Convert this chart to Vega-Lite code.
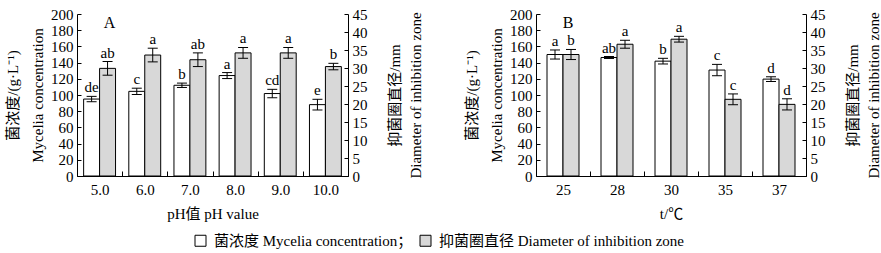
{
  "$schema": "https://vega.github.io/schema/vega-lite/v6.json",
  "background": "white",
  "padding": {"left": 5, "top": 7, "right": 0, "bottom": 0},
  "spacing": 41,
  "config": {
    "view": {"stroke": null},
    "font": "Liberation Serif, Noto Sans CJK SC",
    "axis": {
      "labelFont": "Liberation Serif, Noto Sans CJK SC",
      "titleFont": "Liberation Serif, Noto Sans CJK SC",
      "labelFontSize": 15,
      "titleFontSize": 15,
      "titleFontWeight": "normal",
      "labelColor": "black",
      "titleColor": "black",
      "domainColor": "black",
      "tickColor": "black",
      "ticks": true,
      "grid": false
    },
    "legend": {
      "labelFont": "Liberation Serif, Noto Sans CJK SC",
      "labelFontSize": 15,
      "labelColor": "black"
    },
    "tick": {"color": "black", "thickness": 1, "size": 10, "opacity": 1},
    "rule": {"color": "black", "strokeWidth": 1},
    "text": {"fontSize": 15, "color": "black", "font": "Liberation Serif, Noto Sans CJK SC"}
  },
  "resolve": {"scale": {"xOffset": "independent"}},
  "hconcat": [
    {
      "width": 271,
      "height": 162,
      "data": {"values": [
        {"cat": "5.0", "s": "M", "v": 95, "lo": 91.7, "hi": 98.3, "L": "de"},
        {"cat": "5.0", "s": "D", "v": 29.9, "lo": 28.0, "hi": 31.8, "L": "ab"},
        {"cat": "6.0", "s": "M", "v": 104.5, "lo": 100.6, "hi": 108.4, "L": "c"},
        {"cat": "6.0", "s": "D", "v": 33.6, "lo": 31.7, "hi": 35.5, "L": "a"},
        {"cat": "7.0", "s": "M", "v": 112, "lo": 109.3, "hi": 114.7, "L": "b"},
        {"cat": "7.0", "s": "D", "v": 32.3, "lo": 30.4, "hi": 34.2, "L": "ab"},
        {"cat": "8.0", "s": "M", "v": 124, "lo": 120.3, "hi": 127.7, "L": "a"},
        {"cat": "8.0", "s": "D", "v": 34.2, "lo": 32.7, "hi": 35.7, "L": "a"},
        {"cat": "9.0", "s": "M", "v": 101.8, "lo": 96.6, "hi": 107, "L": "cd"},
        {"cat": "9.0", "s": "D", "v": 34.2, "lo": 32.7, "hi": 35.7, "L": "a"},
        {"cat": "10.0", "s": "M", "v": 88.1, "lo": 81.5, "hi": 94.7, "L": "e"},
        {"cat": "10.0", "s": "D", "v": 30.4, "lo": 29.5, "hi": 31.3, "L": "b"}
      ]},
      "encoding": {
        "x": {
          "field": "cat", "type": "ordinal",
          "scale": {"domain": ["5.0", "6.0", "7.0", "8.0", "9.0", "10.0"], "paddingInner": 0, "paddingOuter": 0},
          "axis": {"title": "pH值 pH value", "labelAngle": 0, "ticks": true, "tickBand": "extent", "tickSize": -5, "labelPadding": 11, "titlePadding": 9}
        },
        "xOffset": {"field": "s", "type": "nominal", "scale": {"domain": ["M", "D"], "paddingInner": 0, "paddingOuter": 0.416}}
      },
      "layer": [
        {
          "transform": [{"filter": "datum.s == 'M'"}],
          "mark": {"type": "bar", "stroke": "black", "strokeWidth": 1},
          "encoding": {
            "y": {"field": "v", "type": "quantitative", "scale": {"domain": [0, 200], "nice": false},
              "axis": {"orient": "left", "values": [0, 20, 40, 60, 80, 100, 120, 140, 160, 180, 200], "tickSize": -4, "labelPadding": 8,
                "title": ["菌浓度/(g·L⁻¹)", "Mycelia concentration"], "titleLineHeight": 25, "titlePadding": 5}},
            "fill": {"field": "s", "type": "nominal", "scale": {"domain": ["M", "D"], "range": ["white", "#d8d8d8"]},
              "legend": {"orient": "none", "legendX": 116, "legendY": 219, "direction": "horizontal", "title": null, "symbolType": "square", "symbolSize": 121, "symbolStrokeColor": "black", "symbolStrokeWidth": 1, "symbolOpacity": 1, "columnPadding": 5, "labelOffset": 6, "labelLimit": 400,
                "labelExpr": "datum.value == 'M' ? '菌浓度 Mycelia concentration；' : '抑菌圈直径 Diameter of inhibition zone'"}}
          }
        },
        {
          "transform": [{"filter": "datum.s == 'M'"}],
          "mark": {"type": "rule"},
          "encoding": {"y": {"field": "lo", "type": "quantitative", "scale": {"domain": [0, 200], "nice": false}, "axis": null}, "y2": {"field": "hi"}}
        },
        {
          "transform": [{"filter": "datum.s == 'M'"}],
          "mark": {"type": "tick"},
          "encoding": {"y": {"field": "lo", "type": "quantitative", "scale": {"domain": [0, 200], "nice": false}, "axis": null}}
        },
        {
          "transform": [{"filter": "datum.s == 'M'"}],
          "mark": {"type": "tick"},
          "encoding": {"y": {"field": "hi", "type": "quantitative", "scale": {"domain": [0, 200], "nice": false}, "axis": null}}
        },
        {
          "transform": [{"filter": "datum.s == 'M'"}],
          "mark": {"type": "text", "baseline": "alphabetic", "dy": -4},
          "encoding": {"y": {"field": "hi", "type": "quantitative", "scale": {"domain": [0, 200], "nice": false}, "axis": null}, "text": {"field": "L"}}
        },
        {
          "data": {"values": [{"t": "A"}]},
          "mark": {"type": "text", "baseline": "middle", "fontSize": 16, "dx": 2},
          "encoding": {"x": {"datum": "5.0"}, "xOffset": {"datum": "D"}, "y": {"datum": 189, "type": "quantitative", "scale": {"domain": [0, 200], "nice": false}, "axis": null}, "text": {"field": "t"}}
        },
        {
          "transform": [{"filter": "datum.s == 'D'"}],
          "mark": {"type": "bar", "stroke": "black", "strokeWidth": 1},
          "encoding": {
            "y": {"field": "v", "type": "quantitative", "scale": {"domain": [0, 45], "nice": false},
              "axis": {"orient": "right", "values": [0, 5, 10, 15, 20, 25, 30, 35, 40, 45], "tickSize": -4, "labelPadding": 8,
                "title": ["抑菌圈直径/mm", "Diameter of inhibition zone"], "titleAngle": 270, "titleBaseline": "top", "titleLineHeight": 21, "titlePadding": -1}},
            "fill": {"field": "s", "type": "nominal", "scale": {"domain": ["M", "D"], "range": ["white", "#d8d8d8"]},
              "legend": {"orient": "none", "legendX": 116, "legendY": 219, "direction": "horizontal", "title": null, "symbolType": "square", "symbolSize": 121, "symbolStrokeColor": "black", "symbolStrokeWidth": 1, "symbolOpacity": 1, "columnPadding": 5, "labelOffset": 6, "labelLimit": 400,
                "labelExpr": "datum.value == 'M' ? '菌浓度 Mycelia concentration；' : '抑菌圈直径 Diameter of inhibition zone'"}}
          }
        },
        {
          "transform": [{"filter": "datum.s == 'D'"}],
          "mark": {"type": "rule"},
          "encoding": {"y": {"field": "lo", "type": "quantitative", "scale": {"domain": [0, 45], "nice": false}, "axis": null}, "y2": {"field": "hi"}}
        },
        {
          "transform": [{"filter": "datum.s == 'D'"}],
          "mark": {"type": "tick"},
          "encoding": {"y": {"field": "lo", "type": "quantitative", "scale": {"domain": [0, 45], "nice": false}, "axis": null}}
        },
        {
          "transform": [{"filter": "datum.s == 'D'"}],
          "mark": {"type": "tick"},
          "encoding": {"y": {"field": "hi", "type": "quantitative", "scale": {"domain": [0, 45], "nice": false}, "axis": null}}
        },
        {
          "transform": [{"filter": "datum.s == 'D'"}],
          "mark": {"type": "text", "baseline": "alphabetic", "dy": -4},
          "encoding": {"y": {"field": "hi", "type": "quantitative", "scale": {"domain": [0, 45], "nice": false}, "axis": null}, "text": {"field": "L"}}
        }
      ],
      "resolve": {"scale": {"y": "independent"}}
    },
    {
      "width": 270,
      "height": 162,
      "data": {"values": [
        {"cat": "25", "s": "M", "v": 150, "lo": 144.4, "hi": 155.6, "L": "a"},
        {"cat": "25", "s": "D", "v": 33.75, "lo": 32.35, "hi": 35.15, "L": "b"},
        {"cat": "28", "s": "M", "v": 146.3, "lo": 145.1, "hi": 147.5, "L": "ab"},
        {"cat": "28", "s": "D", "v": 36.6, "lo": 35.5, "hi": 37.7, "L": "a"},
        {"cat": "30", "s": "M", "v": 141.8, "lo": 138.3, "hi": 145.3, "L": "b"},
        {"cat": "30", "s": "D", "v": 38.0, "lo": 37.2, "hi": 38.8, "L": "a"},
        {"cat": "35", "s": "M", "v": 130.8, "lo": 123.8, "hi": 137.8, "L": "c"},
        {"cat": "35", "s": "D", "v": 21.3, "lo": 19.8, "hi": 22.8, "L": "c"},
        {"cat": "37", "s": "M", "v": 119.6, "lo": 116.7, "hi": 122.5, "L": "d"},
        {"cat": "37", "s": "D", "v": 19.9, "lo": 18.35, "hi": 21.45, "L": "d"}
      ]},
      "encoding": {
        "x": {
          "field": "cat", "type": "ordinal",
          "scale": {"domain": ["25", "28", "30", "35", "37"], "paddingInner": 0, "paddingOuter": 0},
          "axis": {"title": "t/℃", "labelAngle": 0, "ticks": true, "tickBand": "extent", "tickSize": -5, "labelPadding": 11, "titlePadding": 9}
        },
        "xOffset": {"field": "s", "type": "nominal", "scale": {"domain": ["M", "D"], "paddingInner": 0, "paddingOuter": 0.6875}}
      },
      "layer": [
        {
          "transform": [{"filter": "datum.s == 'M'"}],
          "mark": {"type": "bar", "stroke": "black", "strokeWidth": 1},
          "encoding": {
            "y": {"field": "v", "type": "quantitative", "scale": {"domain": [0, 200], "nice": false},
              "axis": {"orient": "left", "values": [0, 20, 40, 60, 80, 100, 120, 140, 160, 180, 200], "tickSize": -4, "labelPadding": 8,
                "title": ["菌浓度/(g·L⁻¹)", "Mycelia concentration"], "titleLineHeight": 25, "titlePadding": 5}},
            "fill": {"field": "s", "type": "nominal", "scale": {"domain": ["M", "D"], "range": ["white", "#d8d8d8"]},
              "legend": {"orient": "none", "legendX": 116, "legendY": 219, "direction": "horizontal", "title": null, "symbolType": "square", "symbolSize": 121, "symbolStrokeColor": "black", "symbolStrokeWidth": 1, "symbolOpacity": 1, "columnPadding": 5, "labelOffset": 6, "labelLimit": 400,
                "labelExpr": "datum.value == 'M' ? '菌浓度 Mycelia concentration；' : '抑菌圈直径 Diameter of inhibition zone'"}}
          }
        },
        {
          "transform": [{"filter": "datum.s == 'M'"}],
          "mark": {"type": "rule"},
          "encoding": {"y": {"field": "lo", "type": "quantitative", "scale": {"domain": [0, 200], "nice": false}, "axis": null}, "y2": {"field": "hi"}}
        },
        {
          "transform": [{"filter": "datum.s == 'M'"}],
          "mark": {"type": "tick"},
          "encoding": {"y": {"field": "lo", "type": "quantitative", "scale": {"domain": [0, 200], "nice": false}, "axis": null}}
        },
        {
          "transform": [{"filter": "datum.s == 'M'"}],
          "mark": {"type": "tick"},
          "encoding": {"y": {"field": "hi", "type": "quantitative", "scale": {"domain": [0, 200], "nice": false}, "axis": null}}
        },
        {
          "transform": [{"filter": "datum.s == 'M'"}],
          "mark": {"type": "text", "baseline": "alphabetic", "dy": -4},
          "encoding": {"y": {"field": "hi", "type": "quantitative", "scale": {"domain": [0, 200], "nice": false}, "axis": null}, "text": {"field": "L"}}
        },
        {
          "data": {"values": [{"t": "B"}]},
          "mark": {"type": "text", "baseline": "middle", "fontSize": 16, "dx": -3},
          "encoding": {"x": {"datum": "25"}, "xOffset": {"datum": "D"}, "y": {"datum": 189, "type": "quantitative", "scale": {"domain": [0, 200], "nice": false}, "axis": null}, "text": {"field": "t"}}
        },
        {
          "transform": [{"filter": "datum.s == 'D'"}],
          "mark": {"type": "bar", "stroke": "black", "strokeWidth": 1},
          "encoding": {
            "y": {"field": "v", "type": "quantitative", "scale": {"domain": [0, 45], "nice": false},
              "axis": {"orient": "right", "values": [0, 5, 10, 15, 20, 25, 30, 35, 40, 45], "tickSize": -4, "labelPadding": 8,
                "title": ["抑菌圈直径/mm", "Diameter of inhibition zone"], "titleAngle": 270, "titleBaseline": "top", "titleLineHeight": 21, "titlePadding": -1}},
            "fill": {"field": "s", "type": "nominal", "scale": {"domain": ["M", "D"], "range": ["white", "#d8d8d8"]},
              "legend": {"orient": "none", "legendX": 116, "legendY": 219, "direction": "horizontal", "title": null, "symbolType": "square", "symbolSize": 121, "symbolStrokeColor": "black", "symbolStrokeWidth": 1, "symbolOpacity": 1, "columnPadding": 5, "labelOffset": 6, "labelLimit": 400,
                "labelExpr": "datum.value == 'M' ? '菌浓度 Mycelia concentration；' : '抑菌圈直径 Diameter of inhibition zone'"}}
          }
        },
        {
          "transform": [{"filter": "datum.s == 'D'"}],
          "mark": {"type": "rule"},
          "encoding": {"y": {"field": "lo", "type": "quantitative", "scale": {"domain": [0, 45], "nice": false}, "axis": null}, "y2": {"field": "hi"}}
        },
        {
          "transform": [{"filter": "datum.s == 'D'"}],
          "mark": {"type": "tick"},
          "encoding": {"y": {"field": "lo", "type": "quantitative", "scale": {"domain": [0, 45], "nice": false}, "axis": null}}
        },
        {
          "transform": [{"filter": "datum.s == 'D'"}],
          "mark": {"type": "tick"},
          "encoding": {"y": {"field": "hi", "type": "quantitative", "scale": {"domain": [0, 45], "nice": false}, "axis": null}}
        },
        {
          "transform": [{"filter": "datum.s == 'D'"}],
          "mark": {"type": "text", "baseline": "alphabetic", "dy": -4},
          "encoding": {"y": {"field": "hi", "type": "quantitative", "scale": {"domain": [0, 45], "nice": false}, "axis": null}, "text": {"field": "L"}}
        }
      ],
      "resolve": {"scale": {"y": "independent"}}
    }
  ]
}
